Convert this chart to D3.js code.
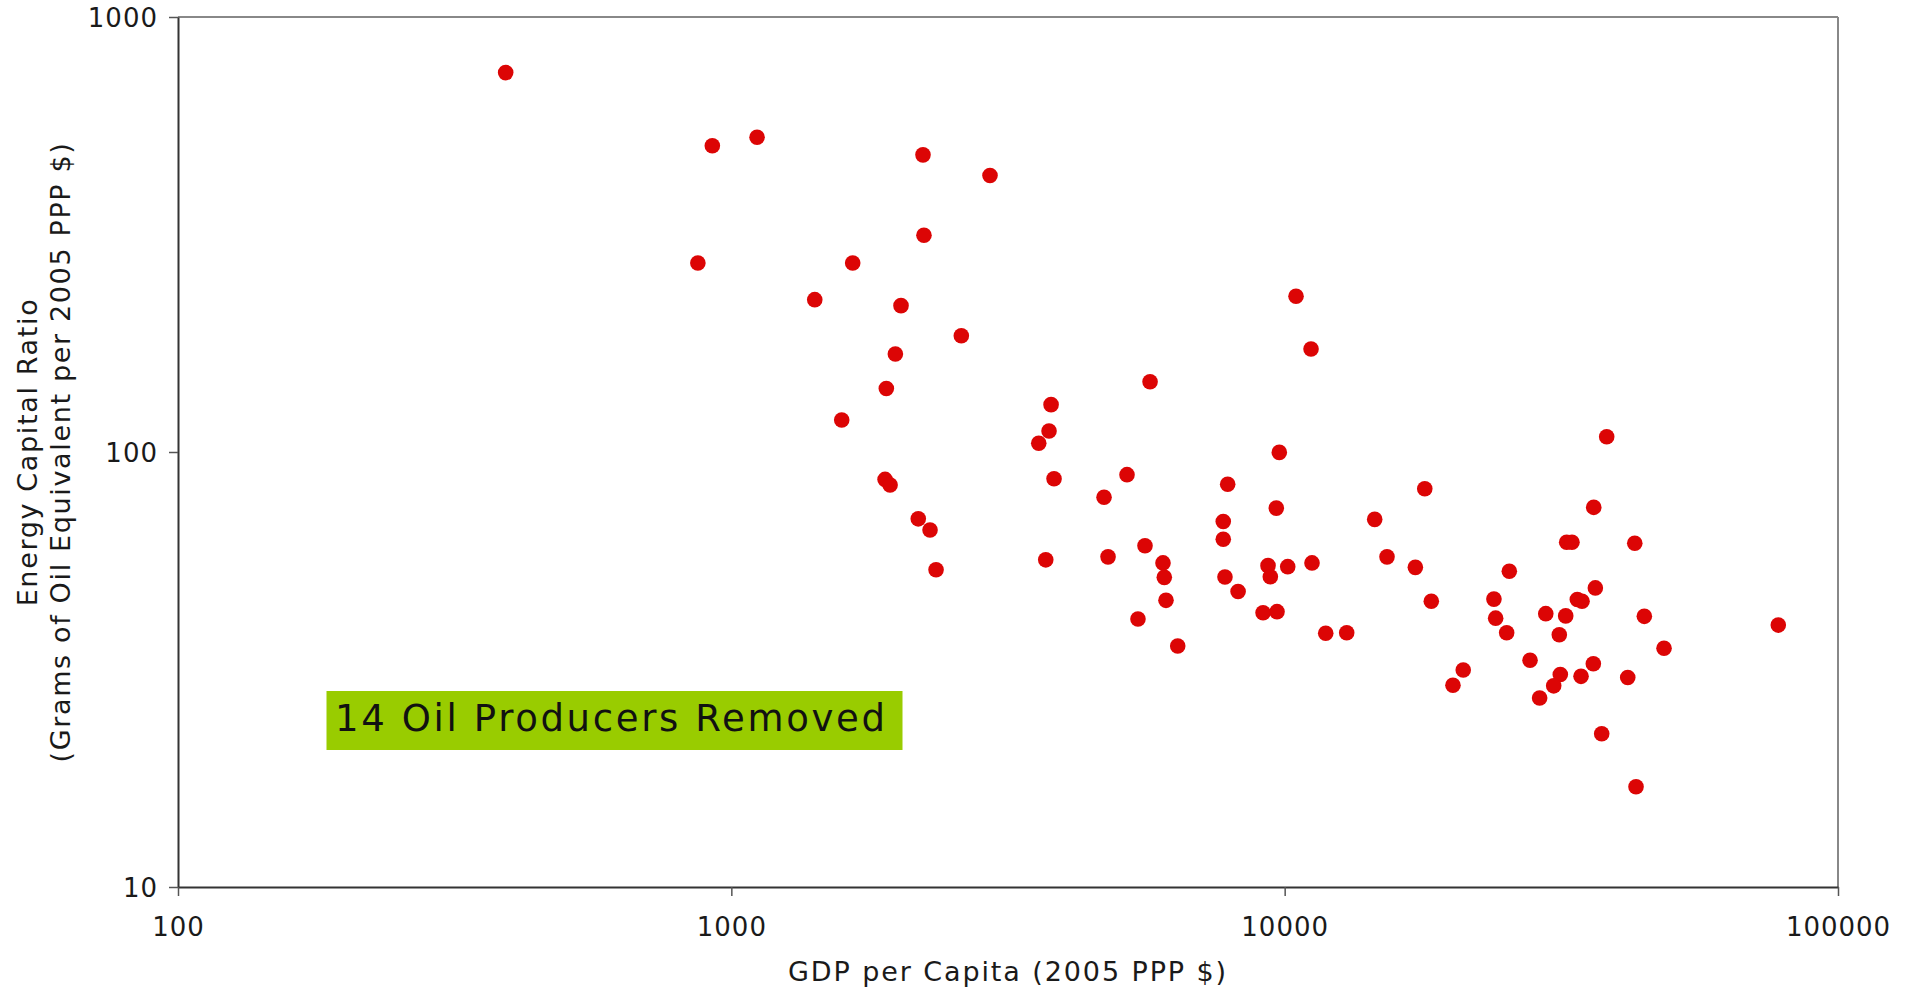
<!DOCTYPE html>
<html>
<head>
<meta charset="utf-8">
<script src="https://cdn.jsdelivr.net/npm/d3@7"></script>
<style>
  html, body { margin: 0; padding: 0; background: #fff; }
  svg { display: block; font-family: "DejaVu Sans", sans-serif; }
</style>
</head>
<body>
<div id="chart"></div>
<script>
// GDP per capita (2005 PPP $) and energy capital ratio
const gdp = [
  391, 924, 1113, 2220, 2229, 870, 1657, 1415, 2026, 1979,
  1906, 1583, 2934, 10484, 2604, 11159, 5711, 3783, 1896, 1936,
  2177, 2286, 3751, 3594, 3830, 5189, 4716, 9779, 7889, 9658,
  7745, 7745, 2344, 3700, 4795, 5592, 6027, 6060, 6103, 5431,
  6408, 7800, 8238, 9331, 9421, 10128, 11205, 9140, 9687, 11863,
  12945, 38194, 17915, 14545, 36186, 32335, 33054, 42925, 15310, 17226,
  18408, 25468, 23889, 24060, 25188, 29640, 32202, 31355, 33800, 34467,
  36430, 44668, 78000, 48484, 27762, 21024, 20143, 31487, 30636, 28891,
  34324, 36128, 41687, 37408, 43152
];
const energyRatio = [
  745, 506, 529, 482, 315, 272, 272, 224, 217, 168,
  140, 118.5, 432, 228, 185, 172.5, 145, 128.5, 86.5, 84,
  70.2, 66.2, 111.8, 104.7, 86.8, 88.7, 78.7, 99.8, 84.3, 74.3,
  69.2, 63.0, 53.6, 56.5, 57.4, 60.9, 55.6, 51.5, 45.6, 41.3,
  35.8, 51.6, 47.8, 54.8, 51.65, 54.5, 55.6, 42.7, 42.95, 38.3,
  38.4, 108.4, 82.3, 70.0, 74.6, 62.0, 62.0, 61.7, 57.4, 54.3,
  45.4, 53.2, 45.9, 41.5, 38.4, 42.5, 42.0, 38.0, 45.8, 45.4,
  48.7, 41.9, 40.0, 35.4, 33.2, 31.55, 29.1, 30.8, 29.0, 27.2,
  30.5, 32.6, 30.3, 22.5, 17.0
];
const xTicks = [100, 1000, 10000, 100000];
const yTicks = [10, 100, 1000];
const xTitle = 'GDP per Capita (2005 PPP $)';
const yTitle = ['Energy Capital Ratio', '(Grams of Oil Equivalent per 2005 PPP $)'];
const note = '14 Oil Producers Removed';

const W = 1911, H = 991;
const margin = {top: 17, right: 73, bottom: 104, left: 178};
const width = W - margin.left - margin.right;
const height = H - margin.top - margin.bottom;

const points = gdp.map((g, i) => ({gdp: g, ratio: energyRatio[i]}));

const svg = d3.select('#chart').append('svg')
    .attr('width', W)
    .attr('height', H);

svg.append('rect').attr('width', W).attr('height', H).attr('fill', '#fff');

const g = svg.append('g')
    .attr('transform', `translate(${margin.left},${margin.top})`);

const x = d3.scaleLog().domain([100, 100000]).range([0, width]);
const y = d3.scaleLog().domain([10, 1000]).range([height, 0]);

// frame: top and right in grey
g.append('line')
    .attr('x1', 0).attr('x2', width).attr('y1', 0).attr('y2', 0)
    .attr('stroke', '#888').attr('stroke-width', 2);
g.append('line')
    .attr('x1', width).attr('x2', width).attr('y1', 0).attr('y2', height)
    .attr('stroke', '#888').attr('stroke-width', 2);

// axes
const yAxis = g.append('g')
    .call(d3.axisLeft(y).tickValues(yTicks).tickFormat(d3.format('d'))
      .tickSize(9).tickSizeOuter(0).tickPadding(11));
const xAxis = g.append('g')
    .attr('transform', `translate(0,${height})`)
    .call(d3.axisBottom(x).tickValues(xTicks).tickFormat(d3.format('d'))
      .tickSize(9).tickSizeOuter(0).tickPadding(22));

[xAxis, yAxis].forEach(ax => {
  ax.select('.domain').attr('stroke', '#333').attr('stroke-width', 2);
  ax.selectAll('.tick line').attr('stroke', '#555').attr('stroke-width', 1.5);
  ax.selectAll('.tick text')
    .attr('fill', '#1a1a1a')
    .style('font-family', '"DejaVu Sans", sans-serif')
    .style('font-size', '26px')
    .style('letter-spacing', '1px');
});
yAxis.selectAll('.tick text').attr('dy', '0.36em');

// annotation box
const note_g = g.append('g');
note_g.append('rect')
    .attr('x', 326.5 - margin.left).attr('y', 691 - margin.top)
    .attr('width', 576).attr('height', 59)
    .attr('fill', '#99cc00');
note_g.append('text')
    .attr('x', 335 - margin.left).attr('y', 731 - margin.top)
    .attr('fill', '#111')
    .style('font-size', '37px')
    .style('letter-spacing', '2.65px')
    .text(note);

// points
g.append('g').selectAll('circle')
  .data(points)
  .enter().append('circle')
    .attr('cx', d => x(d.gdp))
    .attr('cy', d => y(d.ratio))
    .attr('r', 7.8)
    .attr('fill', '#dc0505');

// axis titles
svg.append('text')
    .attr('x', margin.left + width / 2)
    .attr('y', 981)
    .attr('text-anchor', 'middle')
    .attr('fill', '#1a1a1a')
    .style('font-size', '27px')
    .style('letter-spacing', '1.9px')
    .text(xTitle);

const yt = svg.append('text')
    .attr('transform', `translate(0,${margin.top + height / 2}) rotate(-90)`)
    .attr('text-anchor', 'middle')
    .attr('fill', '#1a1a1a')
    .style('font-size', '27px')
    .style('letter-spacing', '1.65px');
yt.selectAll('tspan')
  .data(yTitle)
  .enter().append('tspan')
    .attr('x', 0)
    .attr('y', (d, i) => i === 0 ? 37 : 70)
    .text(d => d);
</script>
</body>
</html>
